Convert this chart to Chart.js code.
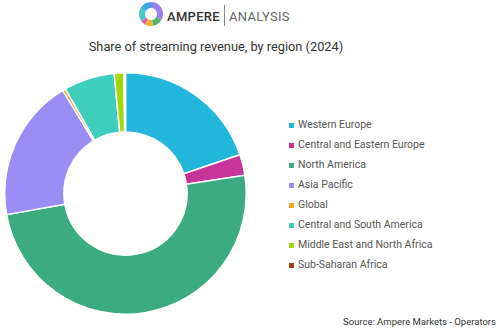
<!DOCTYPE html>
<html>
<head>
<meta charset="utf-8">
<script src="https://cdn.jsdelivr.net/npm/chart.js@4.4.1/dist/chart.umd.min.js"></script>
<style>
    html, body { margin: 0; padding: 0; background: #fff; }
    body { width: 500px; height: 329px; position: relative; overflow: hidden; font-family: Roboto, sans-serif; }
    #logo-ring { position: absolute; left: 139px; top: 2px; width: 24px; height: 24px; }
    #brand { position: absolute; left: 167px; top: 5px; font-size: 13px; line-height: 18px; letter-spacing: 0.3px; }
    #brand .a { color: #333; font-weight: 500; }
    #brand .sep { display: inline-block; width: 1px; height: 21px; background: #888; vertical-align: -5px; margin: 0 4px 0 4px; }
    #brand .b { color: #666; }
    #title { position: absolute; left: 0; width: 432px; top: 39px; text-align: center; font-size: 12.8px; color: #333; }
    #pie-wrap { position: absolute; left: 4px; top: 72px; width: 243px; height: 243px; }
    #legend { position: absolute; left: 289px; top: 115px; margin: 0; padding: 0; list-style: none; }
    #legend li { height: 20px; line-height: 14px; font-size: 10.5px; color: #555; display: flex; align-items: center; }
    #legend li span { display: inline-block; width: 5px; height: 5px; margin-right: 4px; }
    #source { position: absolute; right: 4px; top: 316px; font-size: 9.5px; color: #333; }
</style>
</head>
<body>
<canvas id="logo-ring" width="24" height="24"></canvas>
<div id="brand"><span class="a">AMPERE</span><span class="sep"></span><span class="b">ANALYSIS</span></div>
<div id="title">Share of streaming revenue, by region (2024)</div>
<div id="pie-wrap"><canvas id="region-pie"></canvas></div>
<ul id="legend"></ul>
<div id="source">Source: Ampere Markets - Operators</div>

<script>
// Revenue share per region, percent of total (2024)
const regions = [
    'Western Europe',
    'Central and Eastern Europe',
    'North America',
    'Asia Pacific',
    'Global',
    'Central and South America',
    'Middle East and North Africa',
    'Sub-Saharan Africa',
];
const shares = [19.8, 2.8, 49.6, 19.1, 0.4, 6.8, 1.3, 0.2];
const regionColors = ['#21b6da', '#c8359a', '#3dab82', '#9c8cf5', '#f2a51c', '#3fcdbe', '#a3d70c', '#a34312'];

// Brand ring in the header
const logoParts = [120, 50, 40, 25, 65, 60];
const logoColors = ['#9d7ff2', '#4fb76a', '#f2b636', '#e45aa8', '#48c9c0', '#3aa9e2'];

new Chart(document.getElementById('logo-ring'), {
    type: 'doughnut',
    data: {
        datasets: [{
            data: logoParts,
            backgroundColor: logoColors,
            borderWidth: 0,
            hoverOffset: 0,
        }],
    },
    options: {
        responsive: false,
        animation: false,
        cutout: '50%',
        events: [],
        plugins: { legend: { display: false }, tooltip: { enabled: false } },
    },
});

const pie = new Chart(document.getElementById('region-pie'), {
    type: 'doughnut',
    data: {
        labels: regions,
        datasets: [{
            data: shares,
            backgroundColor: regionColors,
            borderColor: '#fff',
            borderWidth: 1.5,
            hoverOffset: 0,
        }],
    },
    options: {
        responsive: true,
        maintainAspectRatio: false,
        animation: false,
        cutout: '51%',
        layout: { padding: 0 },
        plugins: {
            legend: { display: false },
            tooltip: { enabled: false },
        },
    },
});

// HTML legend built from the chart's own label items
const legendEl = document.getElementById('legend');
pie.options.plugins.legend.labels.generateLabels(pie).forEach(item => {
    const li = document.createElement('li');
    const box = document.createElement('span');
    box.style.background = item.fillStyle;
    li.appendChild(box);
    li.appendChild(document.createTextNode(item.text));
    legendEl.appendChild(li);
});
</script>
</body>
</html>
